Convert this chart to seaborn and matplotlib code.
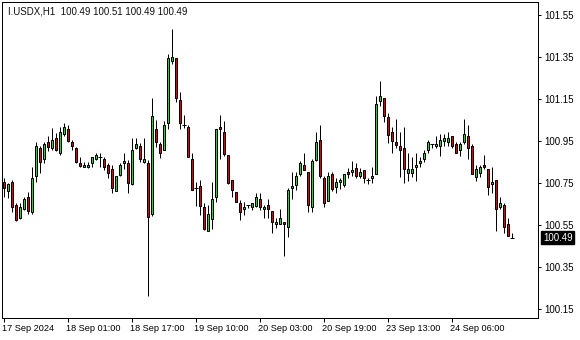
import numpy as np
import pandas as pd
import matplotlib
matplotlib.use("Agg")
import matplotlib.pyplot as plt
import seaborn as sns

title = "I.USDX,H1  100.49 100.51 100.49 100.49"
last_price = "100.49"

opens = [100.756, 100.713, 100.756, 100.645, 100.583, 100.626, 100.683, 100.613, 100.783, 100.916,
         100.864, 100.943, 100.916, 100.964, 100.893, 100.983, 101.007, 100.945, 100.916, 100.845,
         100.826, 100.826, 100.845, 100.864, 100.873, 100.864, 100.835, 100.816, 100.713, 100.788,
         100.843, 100.845, 100.745, 100.916, 100.926, 100.851, 100.843, 100.601, 101.007, 100.934,
         100.905, 101.034, 101.332, 101.344, 101.143, 101.025, 101.015, 100.863, 100.724, 100.734,
         100.634, 100.522, 100.580, 100.681, 101.016, 100.993, 100.883, 100.763, 100.705, 100.653,
         100.624, 100.643, 100.634, 100.640, 100.672, 100.624, 100.643, 100.615, 100.553, 100.553,
         100.563, 100.542, 100.724, 100.742, 100.791, 100.835, 100.802, 100.634, 100.861, 100.953,
         100.772, 100.663, 100.791, 100.732, 100.753, 100.742, 100.802, 100.802, 100.822, 100.781,
         100.814, 100.763, 100.772, 100.791, 101.142, 101.155, 101.063, 100.991, 100.945, 100.926,
         100.915, 100.799, 100.799, 100.825, 100.843, 100.863, 100.905, 100.934, 100.925, 100.925,
         100.951, 100.943, 100.973, 100.935, 100.905, 100.945, 100.973, 100.926, 100.780, 100.799,
         100.835, 100.816, 100.743, 100.764, 100.634, 100.645, 100.555, 100.490]
highs = [100.774, 100.750, 100.764, 100.653, 100.653, 100.684, 100.708, 100.827, 100.946, 100.926,
         100.946, 100.973, 101.012, 100.988, 101.018, 101.035, 101.026, 100.954, 100.922, 100.875,
         100.851, 100.851, 100.875, 100.894, 100.892, 100.873, 100.846, 100.835, 100.783, 100.846,
         100.894, 100.859, 100.964, 100.964, 100.940, 100.964, 100.859, 101.153, 101.050, 100.946,
         101.045, 101.363, 101.482, 101.344, 101.182, 101.072, 101.025, 100.891, 100.753, 100.764,
         100.653, 100.645, 100.753, 101.005, 101.074, 101.045, 100.883, 100.764, 100.708, 100.669,
         100.661, 100.643, 100.656, 100.703, 100.703, 100.645, 100.674, 100.615, 100.582, 100.625,
         100.563, 100.724, 100.803, 100.803, 100.854, 100.894, 100.802, 100.862, 100.991, 101.026,
         100.783, 100.803, 100.803, 100.772, 100.772, 100.791, 100.822, 100.854, 100.845, 100.822,
         100.814, 100.776, 100.825, 101.164, 101.235, 101.155, 101.084, 101.015, 101.053, 100.993,
         101.015, 100.891, 100.872, 100.891, 100.872, 100.907, 100.954, 100.934, 100.973, 100.983,
         100.983, 100.993, 100.973, 100.945, 100.945, 101.053, 101.026, 100.935, 100.835, 100.835,
         100.883, 100.816, 100.825, 100.764, 100.682, 100.653, 100.582, 100.510]
lows = [100.683, 100.678, 100.613, 100.570, 100.577, 100.621, 100.602, 100.602, 100.756, 100.799,
        100.845, 100.903, 100.907, 100.903, 100.883, 100.973, 100.946, 100.907, 100.845, 100.826,
        100.826, 100.820, 100.826, 100.859, 100.826, 100.811, 100.774, 100.703, 100.713, 100.783,
        100.815, 100.703, 100.740, 100.910, 100.851, 100.845, 100.211, 100.595, 100.922, 100.870,
        100.905, 101.005, 101.315, 101.137, 101.005, 101.010, 100.872, 100.715, 100.642, 100.597,
        100.526, 100.522, 100.531, 100.661, 100.863, 100.880, 100.743, 100.681, 100.661, 100.574,
        100.597, 100.629, 100.621, 100.634, 100.621, 100.582, 100.582, 100.513, 100.534, 100.553,
        100.403, 100.491, 100.672, 100.716, 100.783, 100.813, 100.613, 100.613, 100.854, 100.772,
        100.634, 100.663, 100.713, 100.703, 100.723, 100.732, 100.772, 100.783, 100.772, 100.772,
        100.751, 100.747, 100.751, 100.791, 101.116, 101.042, 100.941, 100.891, 100.915, 100.780,
        100.751, 100.761, 100.780, 100.761, 100.825, 100.851, 100.891, 100.915, 100.915, 100.878,
        100.926, 100.926, 100.915, 100.891, 100.878, 100.935, 100.863, 100.791, 100.761, 100.780,
        100.816, 100.693, 100.701, 100.522, 100.624, 100.513, 100.499, 100.490]
closes = [100.724, 100.745, 100.634, 100.573, 100.635, 100.673, 100.618, 100.774, 100.926, 100.851,
          100.935, 100.922, 100.954, 100.907, 100.993, 101.016, 100.951, 100.926, 100.851, 100.832,
          100.835, 100.835, 100.873, 100.883, 100.873, 100.826, 100.799, 100.726, 100.783, 100.835,
          100.854, 100.751, 100.907, 100.935, 100.863, 100.863, 100.589, 101.070, 100.943, 100.891,
          101.025, 101.344, 101.351, 101.153, 101.034, 101.025, 100.872, 100.715, 100.724, 100.642,
          100.531, 100.601, 100.672, 101.005, 101.005, 100.889, 100.751, 100.715, 100.661, 100.613,
          100.634, 100.643, 100.653, 100.682, 100.634, 100.634, 100.624, 100.563, 100.563, 100.582,
          100.553, 100.716, 100.735, 100.781, 100.845, 100.813, 100.643, 100.854, 100.943, 100.781,
          100.653, 100.781, 100.723, 100.753, 100.763, 100.791, 100.791, 100.813, 100.781, 100.802,
          100.772, 100.763, 100.782, 101.126, 101.164, 101.070, 100.980, 100.951, 100.932, 100.905,
          100.815, 100.816, 100.816, 100.835, 100.854, 100.891, 100.945, 100.934, 100.935, 100.954,
          100.964, 100.964, 100.925, 100.891, 100.935, 100.983, 100.915, 100.791, 100.816, 100.825,
          100.825, 100.732, 100.754, 100.624, 100.653, 100.542, 100.499, 100.490]

tick_bars = [0, 16, 32, 48, 64, 80, 96, 112]
tick_labels = ["17 Sep 2024", "18 Sep 01:00", "18 Sep 17:00", "19 Sep 10:00",
               "20 Sep 03:00", "20 Sep 19:00", "23 Sep 13:00", "24 Sep 06:00"]
y_ticks = [101.55, 101.35, 101.15, 100.95, 100.75, 100.55, 100.35, 100.15]

df = pd.DataFrame({"open": opens, "high": highs, "low": lows, "close": closes})
df["bar"] = np.arange(len(df))

sns.set_theme(style="white")
plt.rcParams["font.family"] = ["Liberation Sans", "DejaVu Sans"]

W, H = 580, 340
fig = plt.figure(figsize=(W / 100, H / 100), dpi=100)
ax = fig.add_axes([2 / W, 1 - 318 / H, 536 / W, 316 / H])

bull = "#32CD32"
bear = "#E00000"
px = 0.72

ax.vlines(df["bar"], df["low"], df["high"], color="black", linewidth=px, zorder=2)

diff = df["close"] - df["open"]
doji = diff.abs() < 0.003
body = df[~doji]
colors = np.where(body["close"] > body["open"], bull, bear)
bottoms = np.minimum(body["open"], body["close"])
heights = (body["close"] - body["open"]).abs()
ax.bar(body["bar"], heights, bottom=bottoms, width=0.55, color=colors,
       edgecolor="black", linewidth=px, zorder=3)
dj = df[doji]
ax.hlines(dj["open"], dj["bar"] - 0.45, dj["bar"] + 0.45, color="black",
          linewidth=px, zorder=3)

ax.set_xlim(-0.5, 133.5)
ax.set_ylim(100.107, 101.612)

ax.yaxis.tick_right()
ax.set_yticks(y_ticks)
ax.set_yticklabels([f"{v:.2f}" for v in y_ticks])
ax.tick_params(axis="y", which="both", right=True, left=False, length=2.5,
               width=px, pad=2, labelsize=7, colors="black")
ax.set_xticks(tick_bars)
ax.set_xticklabels(tick_labels, ha="left")
ax.tick_params(axis="x", which="both", bottom=True, length=3, width=px, pad=1.5,
               labelsize=6.6, colors="black")
for lab in ax.get_xticklabels():
    lab.set_x(0)
import matplotlib.transforms as mtrans
offset = mtrans.ScaledTranslation(-1.5 / 100, 0, fig.dpi_scale_trans)
for lab in ax.get_xticklabels():
    lab.set_transform(lab.get_transform() + offset)

for s in ax.spines.values():
    s.set_visible(True)
    s.set_color("black")
    s.set_linewidth(px)
ax.grid(False)

ax.text(6 / 536, 1 - 9 / 316, title, transform=ax.transAxes, fontsize=7,
        color="#101010", va="center", ha="left")

ax.annotate(last_price, xy=(1, closes[-1]), xycoords=("axes fraction", "data"),
            xytext=(3.5, 0), textcoords="offset points", fontsize=7, color="white",
            va="center", ha="left", annotation_clip=False,
            bbox=dict(boxstyle="square,pad=0.18", fc="black", ec="black"))

fig.savefig("out.png", dpi=100)
